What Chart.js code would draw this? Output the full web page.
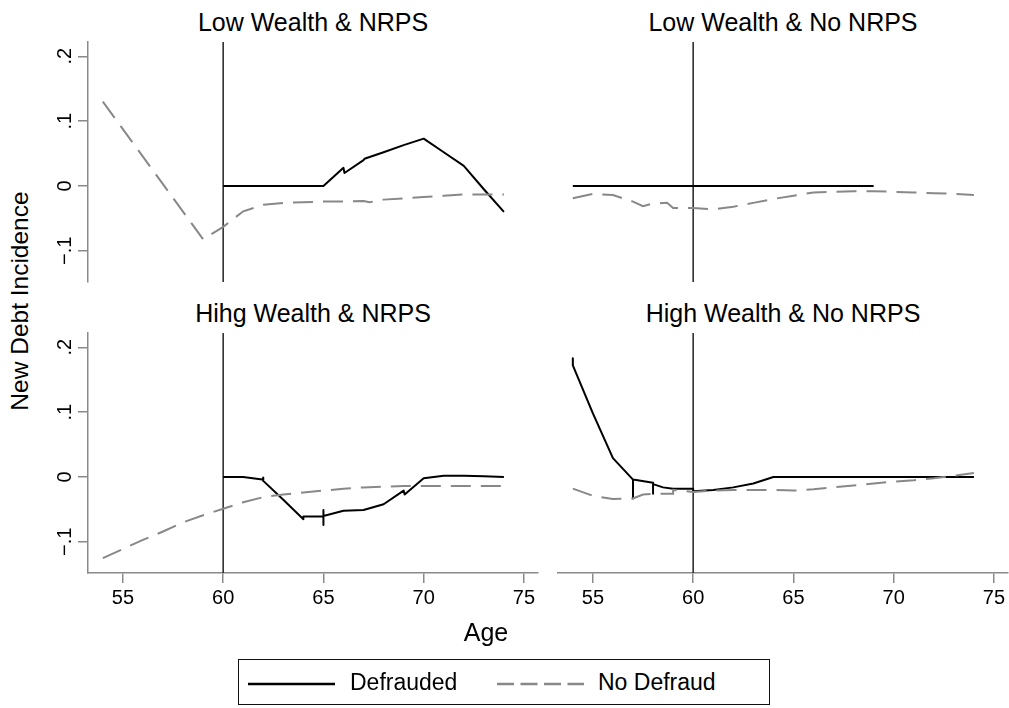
<!DOCTYPE html>
<html>
<head>
<meta charset="utf-8">
<script src="https://cdn.jsdelivr.net/npm/chart.js@4.4.1/dist/chart.umd.min.js"></script>
<style>
  html, body { margin: 0; padding: 0; background: #fff; }
  #wrap { position: relative; width: 1009px; height: 708px; overflow: hidden;
          font-family: "Liberation Sans", Arial, Helvetica, sans-serif; color: #000; }
  #wrap canvas { position: absolute; }
  .ptitle { position: absolute; font-size: 25px; line-height: 25px; white-space: nowrap;
            transform: translateX(-50%); }
  #ytitle { position: absolute; left: 20px; top: 301px; font-size: 24.5px; line-height: 24px;
            white-space: nowrap; transform: translate(-50%, -50%) rotate(-90deg); }
  #xtitle { position: absolute; left: 486px; top: 620px; font-size: 25px; line-height: 25px;
            white-space: nowrap; transform: translateX(-50%); }
  #legend { position: absolute; left: 238px; top: 659px; width: 532px; height: 46px;
            border: 1.5px solid #111; box-sizing: border-box; }
  #legend svg { position: absolute; left: 0; top: 0; }
  #legend span { position: absolute; font-size: 23px; line-height: 23px; top: 11px; white-space: nowrap; }
</style>
</head>
<body>
<div id="wrap">
  <canvas id="p1" width="500" height="244" style="left:40px;top:40px"></canvas>
  <canvas id="p2" width="453" height="244" style="left:556px;top:40px"></canvas>
  <canvas id="p3" width="500" height="289" style="left:40px;top:331px"></canvas>
  <canvas id="p4" width="453" height="289" style="left:556px;top:331px"></canvas>
  <div class="ptitle" id="t1" style="left:313px;top:10px"></div>
  <div class="ptitle" id="t2" style="left:783px;top:10px"></div>
  <div class="ptitle" id="t3" style="left:313px;top:301px"></div>
  <div class="ptitle" id="t4" style="left:783px;top:301px"></div>
  <div id="ytitle"></div>
  <div id="xtitle"></div>
  <div id="legend">
    <svg width="532" height="46">
      <line x1="9" y1="24" x2="96" y2="24" stroke="#000" stroke-width="2.5"/>
      <line x1="258" y1="24" x2="345" y2="24" stroke="#888" stroke-width="2.5" stroke-dasharray="17 6.5"/>
    </svg>
    <span id="lg1" style="left:111px"></span>
    <span id="lg2" style="left:359px"></span>
  </div>
</div>
<script>
// Axis ranges and ticks
const AGE_MIN = 53.26, AGE_MAX = 75.7;
const INC_MIN = -0.148, INC_MAX = 0.222;
const ageTicks = [55, 60, 65, 70, 75];
const incidenceTicks = [-0.1, 0, 0.1, 0.2];
const pensionAge = 60;

const panelTitles = ['Low Wealth & NRPS', 'Low Wealth & No NRPS', 'Hihg Wealth & NRPS', 'High Wealth & No NRPS'];
const seriesNames = ['Defrauded', 'No Defraud'];
const xTitle = 'Age';
const yTitle = 'New Debt Incidence';

// Low Wealth & NRPS
const lowNrpsDefAge = [60, 65, 66, 66.05, 67, 67.05, 68, 69, 70, 71, 72, 73, 74];
const lowNrpsDefVal = [0, 0, 0.028, 0.020, 0.040, 0.042, 0.052, 0.063, 0.073, 0.052, 0.031, -0.005, -0.040];
const lowNrpsNoAge = [54, 59, 60, 61, 62, 63, 64, 65, 66, 67, 67.3, 68, 69, 70, 71, 72, 73, 74];
const lowNrpsNoVal = [0.130, -0.082, -0.063, -0.039, -0.029, -0.026, -0.025, -0.024, -0.024, -0.023, -0.025, -0.021, -0.019, -0.017, -0.015, -0.013, -0.013, -0.013];

// Low Wealth & No NRPS
const lowNoDefAge = [54, 69];
const lowNoDefVal = [0, 0];
const lowNoNoAge = [54, 55, 56, 56.5, 57, 57.5, 58, 58.7, 59, 60, 61, 62, 63, 64, 65, 66, 67, 68, 69, 70, 71, 72, 73, 74];
const lowNoNoVal = [-0.019, -0.012, -0.014, -0.019, -0.024, -0.031, -0.027, -0.026, -0.034, -0.034, -0.036, -0.032, -0.026, -0.020, -0.015, -0.010, -0.009, -0.008, -0.008, -0.009, -0.010, -0.011, -0.012, -0.014];

// High Wealth & NRPS
const highNrpsDefAge = [60, 61, 61.95, 62, 62, 63, 64, 64, 65, 65, 65, 65, 66, 67, 68, 69, 69.05, 70, 71, 72, 73, 74];
const highNrpsDefVal = [0, 0, -0.004, -0.001, -0.006, -0.035, -0.065, -0.061, -0.061, -0.051, -0.074, -0.060, -0.052, -0.051, -0.042, -0.021, -0.027, -0.002, 0.002, 0.002, 0.001, 0];
const highNrpsNoAge = [54, 55, 56, 57, 58, 59, 60, 61, 62, 63, 64, 65, 66, 67, 68, 69, 70, 71, 72, 73, 74];
const highNrpsNoVal = [-0.125, -0.111, -0.097, -0.084, -0.070, -0.059, -0.049, -0.039, -0.031, -0.027, -0.024, -0.021, -0.018, -0.016, -0.015, -0.014, -0.014, -0.014, -0.014, -0.014, -0.014];

// High Wealth & No NRPS
const highNoDefAge = [54, 54, 55, 56, 57, 57, 57, 58, 58, 58, 58.5, 59, 60, 60, 61, 62, 63, 64, 74];
const highNoDefVal = [0.183, 0.172, 0.098, 0.029, -0.004, -0.033, -0.004, -0.009, -0.026, -0.011, -0.016, -0.018, -0.018, -0.022, -0.020, -0.016, -0.010, 0, 0];
const highNoNoAge = [54, 55, 56, 57, 57.5, 58, 59, 59, 60, 61, 62, 63, 64, 65, 66, 67, 68, 69, 70, 71, 72, 73, 74];
const highNoNoVal = [-0.018, -0.029, -0.034, -0.033, -0.027, -0.026, -0.026, -0.020, -0.023, -0.021, -0.020, -0.020, -0.020, -0.021, -0.019, -0.016, -0.013, -0.010, -0.007, -0.005, -0.002, 0.002, 0.006];

const FONT = '"Liberation Sans", Arial, Helvetica, sans-serif';
const AXIS_GRAY = '#8a8a8a';

function toPoints(ages, vals) {
  return ages.map((a, i) => ({ x: a, y: vals[i] }));
}

function fmtIncidence(v) {
  if (Math.abs(v) < 1e-9) return '0';
  const s = Math.abs(v).toFixed(1).replace(/^0/, '');
  return (v < 0 ? '\u2212' : '') + s;
}

function drawPanel(id, defAges, defVals, noAges, noVals, showX, showY, pad) {
  new Chart(document.getElementById(id), {
    type: 'scatter',
    data: {
      datasets: [
        { label: seriesNames[1], data: toPoints(noAges, noVals), showLine: true,
          borderColor: '#888', borderWidth: 2, borderDash: [20, 10],
          pointRadius: 0, pointHoverRadius: 0, order: 0 },
        { label: seriesNames[0], data: toPoints(defAges, defVals), showLine: true,
          borderColor: '#000', borderWidth: 2, borderJoinStyle: 'round',
          pointRadius: 0, pointHoverRadius: 0, order: 1 },
        { label: 'age 60', data: toPoints([pensionAge, pensionAge], [INC_MIN, INC_MAX]), showLine: true,
          borderColor: '#222', borderWidth: 1.5, pointRadius: 0, pointHoverRadius: 0, order: 2 }
      ]
    },
    options: {
      responsive: false,
      animation: false,
      events: [],
      layout: { padding: pad },
      plugins: { legend: { display: false }, tooltip: { enabled: false }, title: { display: false } },
      scales: {
        x: {
          type: 'linear', min: AGE_MIN, max: AGE_MAX, display: showX,
          afterBuildTicks: s => { s.ticks = ageTicks.map(v => ({ value: v })); },
          afterFit: s => {
            s.height = showX ? 47 : 0;
            s.paddingLeft = 0; s.paddingRight = 0;
          },
          ticks: { font: { family: FONT, size: 20 }, color: '#000', padding: 3,
                   maxRotation: 0, minRotation: 0, autoSkip: false,
                   callback: v => String(v) },
          grid: { drawOnChartArea: false, drawTicks: true, tickLength: 10, color: AXIS_GRAY, lineWidth: 1.5 },
          border: { display: true, color: AXIS_GRAY, width: 1.5 }
        },
        y: {
          type: 'linear', min: INC_MIN, max: INC_MAX, display: showY,
          afterBuildTicks: s => { s.ticks = incidenceTicks.map(v => ({ value: v })); },
          afterFit: s => {
            s.width = showY ? 48 : 0;
            s.paddingTop = 0; s.paddingBottom = 0;
          },
          ticks: { font: { family: FONT, size: 20 }, color: '#000', padding: -2,
                   minRotation: 90, maxRotation: 90, crossAlign: 'center', autoSkip: false,
                   callback: v => fmtIncidence(v) },
          grid: { drawOnChartArea: false, drawTicks: true, tickLength: 10, color: AXIS_GRAY, lineWidth: 1.5 },
          border: { display: true, color: AXIS_GRAY, width: 1.5 }
        }
      }
    }
  });
}

drawPanel('p1', lowNrpsDefAge, lowNrpsDefVal, lowNrpsNoAge, lowNrpsNoVal, false, true, { top: 2, right: 2, bottom: 2, left: 0 });
drawPanel('p2', lowNoDefAge, lowNoDefVal, lowNoNoAge, lowNoNoVal, false, false, { top: 2, right: 1, bottom: 2, left: 2 });
drawPanel('p3', highNrpsDefAge, highNrpsDefVal, highNrpsNoAge, highNrpsNoVal, true, true, { top: 2, right: 2, bottom: 0, left: 0 });
drawPanel('p4', highNoDefAge, highNoDefVal, highNoNoAge, highNoNoVal, true, false, { top: 2, right: 1, bottom: 0, left: 2 });

['t1', 't2', 't3', 't4'].forEach((id, i) => { document.getElementById(id).textContent = panelTitles[i]; });
document.getElementById('ytitle').textContent = yTitle;
document.getElementById('xtitle').textContent = xTitle;
document.getElementById('lg1').textContent = seriesNames[0];
document.getElementById('lg2').textContent = seriesNames[1];
</script>
</body>
</html>
